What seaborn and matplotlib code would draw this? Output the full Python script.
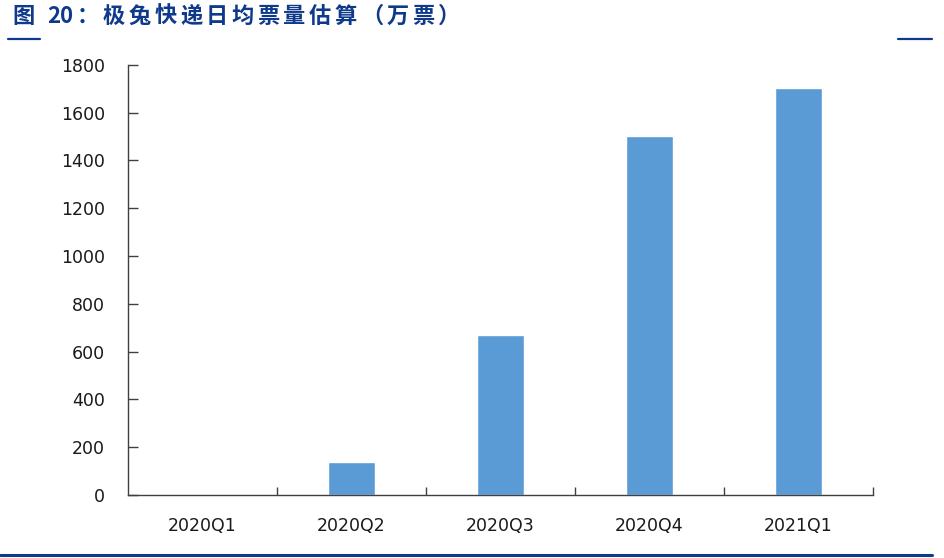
import matplotlib
matplotlib.use("Agg")
import matplotlib.pyplot as plt
from matplotlib.lines import Line2D
import seaborn as sns
import pandas as pd

# data
quarters = ["2020Q1", "2020Q2", "2020Q3", "2020Q4", "2021Q1"]
daily_tickets = [0, 140, 668, 1500, 1702]   # 万票
yticks = [0, 200, 400, 600, 800, 1000, 1200, 1400, 1600, 1800]

title = "图 20：极兔快递日均票量估算（万票）"
navy = "#0F3A8C"
bar_color = "#5B9BD5"

sns.set_style("white")
plt.rcParams["font.family"] = ["Noto Sans CJK SC", "DejaVu Sans"]

df = pd.DataFrame({"quarter": quarters, "tickets": daily_tickets})

fig = plt.figure(figsize=(9.45, 5.58), dpi=100)
ax = fig.add_axes([128 / 945, 1 - 495 / 558, (873 - 128) / 945, (495 - 64.7) / 558])

sns.barplot(data=df, x="quarter", y="tickets", color=bar_color, width=0.31,
            saturation=1, ax=ax)

ax.set_xlim(-0.5, len(quarters) - 0.5)
ax.set_ylim(0, 1800)
ax.set_yticks(yticks)
ax.set_xlabel("")
ax.set_ylabel("")

# category separators as inward minor ticks
ax.set_xticks([i - 0.5 for i in range(1, len(quarters) + 1)], minor=True)
ax.tick_params(axis="x", which="major", bottom=True, length=0, pad=16,
               labelsize=12.5, colors="#1a1a1a")
ax.tick_params(axis="x", which="minor", bottom=True, direction="in", length=6,
               width=1, color="#404040")
ax.tick_params(axis="y", left=True, direction="in", length=7, width=1, color="#404040",
               pad=16.5, labelsize=12.5, labelcolor="#1a1a1a")
for lab in ax.get_xticklabels() + ax.get_yticklabels():
    lab.set_fontfamily("DejaVu Sans")

for side in ["top", "right"]:
    ax.spines[side].set_visible(False)
for side in ["left", "bottom"]:
    ax.spines[side].set_color("#404040")
    ax.spines[side].set_linewidth(1)

# header: letter-spaced title, spread from x=12 to x=460 px like the reference
renderer = fig.canvas.get_renderer()
tkw = dict(color=navy, fontsize=16, fontweight="bold", ha="left", va="center")


def ink_width(s):
    t = fig.text(0, 0, s, **tkw)
    w = t.get_window_extent(renderer).width
    t.remove()
    return w


# no extra spacing inside the number "20"
spaced = [0]
for i in range(1, len(title)):
    tight = title[i].isdigit() and title[i - 1].isdigit()
    spaced.append(spaced[-1] + (0 if tight else 1))

bar_w = ink_width("|")
offsets = [0.0] + [ink_width(title[:i] + "|") - bar_w for i in range(1, len(title))]
natural = ink_width(title)
gap = (448 - natural) / spaced[-1]
x0, ty = 12.5, 1 - 16.5 / 558
for i, ch in enumerate(title):
    if ch == " ":
        continue
    fig.text((x0 + offsets[i] + spaced[i] * gap) / 945, ty, ch, **tkw)

fig.add_artist(Line2D([8 / 945, 40 / 945], [1 - 39 / 558] * 2, color=navy, lw=1.6))
fig.add_artist(Line2D([898 / 945, 932 / 945], [1 - 39 / 558] * 2, color=navy, lw=1.6))
fig.add_artist(Line2D([0, 932 / 945], [1 - 555 / 558] * 2, color=navy, lw=2.2))

fig.savefig("out.png", dpi=100)
